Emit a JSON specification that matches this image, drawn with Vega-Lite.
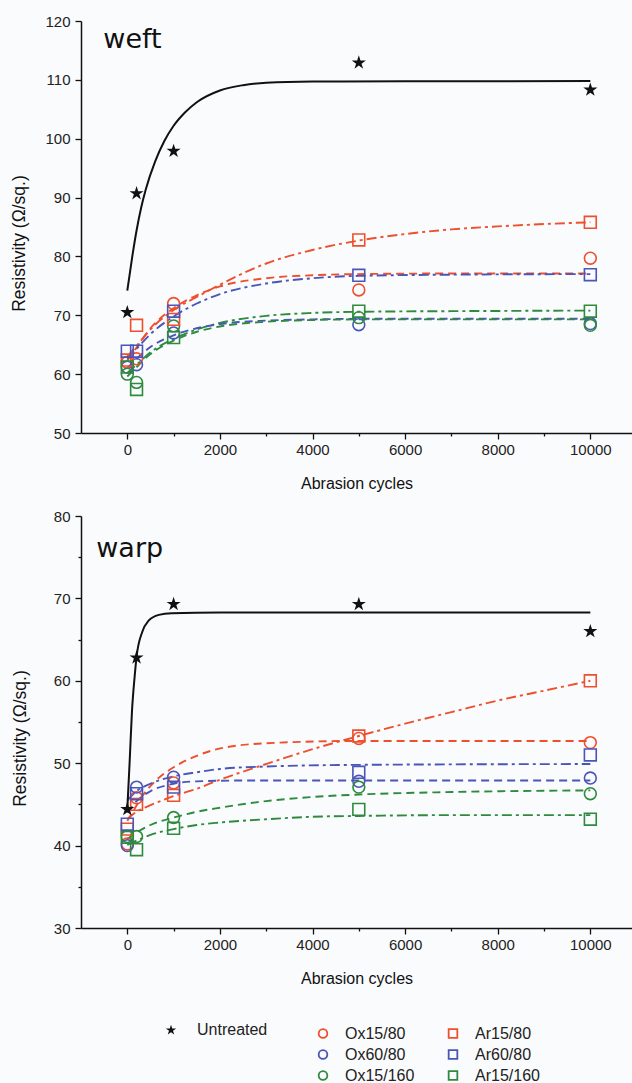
{
  "$schema": "https://vega.github.io/schema/vega-lite/v6.json",
  "background": "#fafbfd",
  "padding": {"left": 10, "top": 14, "right": 0, "bottom": 0},
  "config": {
    "view": {"stroke": null},
    "font": "Liberation Sans",
    "axis": {
      "grid": false,
      "domainColor": "#111",
      "domainWidth": 1.5,
      "tickColor": "#111",
      "tickWidth": 1.3,
      "labelFont": "Liberation Sans",
      "labelFontSize": 15,
      "labelColor": "#222",
      "labelPadding": 3,
      "titleFont": "Liberation Sans",
      "titleFontSize": 16,
      "titleFontWeight": "normal",
      "titleColor": "#111"
    }
  },
  "datasets": {
    "pts": [
      {"panel": "weft", "series": "Untreated", "cycles": 0, "r": 70.5},
      {"panel": "weft", "series": "Untreated", "cycles": 200, "r": 90.7},
      {"panel": "weft", "series": "Untreated", "cycles": 1000, "r": 97.9},
      {"panel": "weft", "series": "Untreated", "cycles": 5000, "r": 112.9},
      {"panel": "weft", "series": "Untreated", "cycles": 10000, "r": 108.3},
      {"panel": "weft", "series": "Ox15/80", "cycles": 0, "r": 62.0},
      {"panel": "weft", "series": "Ox15/80", "cycles": 200, "r": 62.6},
      {"panel": "weft", "series": "Ox15/80", "cycles": 1000, "r": 72.0},
      {"panel": "weft", "series": "Ox15/80", "cycles": 5000, "r": 74.3},
      {"panel": "weft", "series": "Ox15/80", "cycles": 10000, "r": 79.7},
      {"panel": "weft", "series": "Ox60/80", "cycles": 0, "r": 61.2},
      {"panel": "weft", "series": "Ox60/80", "cycles": 200, "r": 61.6},
      {"panel": "weft", "series": "Ox60/80", "cycles": 1000, "r": 67.0},
      {"panel": "weft", "series": "Ox60/80", "cycles": 5000, "r": 68.4},
      {"panel": "weft", "series": "Ox60/80", "cycles": 10000, "r": 68.6},
      {"panel": "weft", "series": "Ox15/160", "cycles": 0, "r": 60.0},
      {"panel": "weft", "series": "Ox15/160", "cycles": 200, "r": 58.6},
      {"panel": "weft", "series": "Ox15/160", "cycles": 1000, "r": 68.2},
      {"panel": "weft", "series": "Ox15/160", "cycles": 5000, "r": 69.6},
      {"panel": "weft", "series": "Ox15/160", "cycles": 10000, "r": 68.3},
      {"panel": "weft", "series": "Ar15/80", "cycles": 0, "r": 62.4},
      {"panel": "weft", "series": "Ar15/80", "cycles": 200, "r": 68.3},
      {"panel": "weft", "series": "Ar15/80", "cycles": 1000, "r": 69.3},
      {"panel": "weft", "series": "Ar15/80", "cycles": 5000, "r": 82.8},
      {"panel": "weft", "series": "Ar15/80", "cycles": 10000, "r": 85.8},
      {"panel": "weft", "series": "Ar60/80", "cycles": 0, "r": 63.9},
      {"panel": "weft", "series": "Ar60/80", "cycles": 200, "r": 63.9},
      {"panel": "weft", "series": "Ar60/80", "cycles": 1000, "r": 70.7},
      {"panel": "weft", "series": "Ar60/80", "cycles": 5000, "r": 76.8},
      {"panel": "weft", "series": "Ar60/80", "cycles": 10000, "r": 76.9},
      {"panel": "weft", "series": "Ar15/160", "cycles": 0, "r": 61.2},
      {"panel": "weft", "series": "Ar15/160", "cycles": 200, "r": 57.4},
      {"panel": "weft", "series": "Ar15/160", "cycles": 1000, "r": 66.2},
      {"panel": "weft", "series": "Ar15/160", "cycles": 5000, "r": 70.7},
      {"panel": "weft", "series": "Ar15/160", "cycles": 10000, "r": 70.7},
      {"panel": "warp", "series": "Untreated", "cycles": 0, "r": 44.4},
      {"panel": "warp", "series": "Untreated", "cycles": 200, "r": 62.8},
      {"panel": "warp", "series": "Untreated", "cycles": 1000, "r": 69.3},
      {"panel": "warp", "series": "Untreated", "cycles": 5000, "r": 69.3},
      {"panel": "warp", "series": "Untreated", "cycles": 10000, "r": 66.0},
      {"panel": "warp", "series": "Ox15/80", "cycles": 0, "r": 40.2},
      {"panel": "warp", "series": "Ox15/80", "cycles": 200, "r": 45.8},
      {"panel": "warp", "series": "Ox15/80", "cycles": 1000, "r": 47.6},
      {"panel": "warp", "series": "Ox15/80", "cycles": 5000, "r": 53.0},
      {"panel": "warp", "series": "Ox15/80", "cycles": 10000, "r": 52.5},
      {"panel": "warp", "series": "Ox60/80", "cycles": 0, "r": 40.0},
      {"panel": "warp", "series": "Ox60/80", "cycles": 200, "r": 47.1},
      {"panel": "warp", "series": "Ox60/80", "cycles": 1000, "r": 48.3},
      {"panel": "warp", "series": "Ox60/80", "cycles": 5000, "r": 47.8},
      {"panel": "warp", "series": "Ox60/80", "cycles": 10000, "r": 48.2},
      {"panel": "warp", "series": "Ox15/160", "cycles": 0, "r": 41.1},
      {"panel": "warp", "series": "Ox15/160", "cycles": 200, "r": 41.1},
      {"panel": "warp", "series": "Ox15/160", "cycles": 1000, "r": 43.4},
      {"panel": "warp", "series": "Ox15/160", "cycles": 5000, "r": 47.1},
      {"panel": "warp", "series": "Ox15/160", "cycles": 10000, "r": 46.3},
      {"panel": "warp", "series": "Ar15/80", "cycles": 0, "r": 42.0},
      {"panel": "warp", "series": "Ar15/80", "cycles": 200, "r": 45.0},
      {"panel": "warp", "series": "Ar15/80", "cycles": 1000, "r": 46.1},
      {"panel": "warp", "series": "Ar15/80", "cycles": 5000, "r": 53.3},
      {"panel": "warp", "series": "Ar15/80", "cycles": 10000, "r": 60.0},
      {"panel": "warp", "series": "Ar60/80", "cycles": 0, "r": 42.6},
      {"panel": "warp", "series": "Ar60/80", "cycles": 200, "r": 46.3},
      {"panel": "warp", "series": "Ar60/80", "cycles": 1000, "r": 47.1},
      {"panel": "warp", "series": "Ar60/80", "cycles": 5000, "r": 48.9},
      {"panel": "warp", "series": "Ar60/80", "cycles": 10000, "r": 51.0},
      {"panel": "warp", "series": "Ar15/160", "cycles": 0, "r": 41.0},
      {"panel": "warp", "series": "Ar15/160", "cycles": 200, "r": 39.5},
      {"panel": "warp", "series": "Ar15/160", "cycles": 1000, "r": 42.1},
      {"panel": "warp", "series": "Ar15/160", "cycles": 5000, "r": 44.4},
      {"panel": "warp", "series": "Ar15/160", "cycles": 10000, "r": 43.2}
    ],
    "fits": [
      {"panel": "weft", "series": "Untreated", "cycles": 0, "r": 74.2},
      {"panel": "weft", "series": "Untreated", "cycles": 100, "r": 79.6},
      {"panel": "weft", "series": "Untreated", "cycles": 200, "r": 84.4},
      {"panel": "weft", "series": "Untreated", "cycles": 300, "r": 88.3},
      {"panel": "weft", "series": "Untreated", "cycles": 400, "r": 91.4},
      {"panel": "weft", "series": "Untreated", "cycles": 600, "r": 96.1},
      {"panel": "weft", "series": "Untreated", "cycles": 800, "r": 99.6},
      {"panel": "weft", "series": "Untreated", "cycles": 1000, "r": 102.2},
      {"panel": "weft", "series": "Untreated", "cycles": 1250, "r": 104.5},
      {"panel": "weft", "series": "Untreated", "cycles": 1500, "r": 106.2},
      {"panel": "weft", "series": "Untreated", "cycles": 2000, "r": 108.2},
      {"panel": "weft", "series": "Untreated", "cycles": 2500, "r": 109.1},
      {"panel": "weft", "series": "Untreated", "cycles": 3000, "r": 109.5},
      {"panel": "weft", "series": "Untreated", "cycles": 4000, "r": 109.7},
      {"panel": "weft", "series": "Untreated", "cycles": 6000, "r": 109.75},
      {"panel": "weft", "series": "Untreated", "cycles": 10000, "r": 109.8},
      {"panel": "weft", "series": "Ar15/80", "cycles": 0, "r": 63.0},
      {"panel": "weft", "series": "Ar15/80", "cycles": 200, "r": 64.8},
      {"panel": "weft", "series": "Ar15/80", "cycles": 500, "r": 67.6},
      {"panel": "weft", "series": "Ar15/80", "cycles": 1000, "r": 70.9},
      {"panel": "weft", "series": "Ar15/80", "cycles": 1500, "r": 73.1},
      {"panel": "weft", "series": "Ar15/80", "cycles": 2000, "r": 75.2},
      {"panel": "weft", "series": "Ar15/80", "cycles": 3000, "r": 78.8},
      {"panel": "weft", "series": "Ar15/80", "cycles": 4000, "r": 81.1},
      {"panel": "weft", "series": "Ar15/80", "cycles": 5000, "r": 82.7},
      {"panel": "weft", "series": "Ar15/80", "cycles": 6000, "r": 83.8},
      {"panel": "weft", "series": "Ar15/80", "cycles": 7000, "r": 84.6},
      {"panel": "weft", "series": "Ar15/80", "cycles": 8000, "r": 85.1},
      {"panel": "weft", "series": "Ar15/80", "cycles": 9000, "r": 85.5},
      {"panel": "weft", "series": "Ar15/80", "cycles": 10000, "r": 85.8},
      {"panel": "weft", "series": "Ox15/80", "cycles": 0, "r": 62.3},
      {"panel": "weft", "series": "Ox15/80", "cycles": 200, "r": 64.5},
      {"panel": "weft", "series": "Ox15/80", "cycles": 500, "r": 67.8},
      {"panel": "weft", "series": "Ox15/80", "cycles": 1000, "r": 71.2},
      {"panel": "weft", "series": "Ox15/80", "cycles": 1500, "r": 73.4},
      {"panel": "weft", "series": "Ox15/80", "cycles": 2000, "r": 74.9},
      {"panel": "weft", "series": "Ox15/80", "cycles": 3000, "r": 76.3},
      {"panel": "weft", "series": "Ox15/80", "cycles": 4000, "r": 76.8},
      {"panel": "weft", "series": "Ox15/80", "cycles": 5000, "r": 77.0},
      {"panel": "weft", "series": "Ox15/80", "cycles": 7000, "r": 77.1},
      {"panel": "weft", "series": "Ox15/80", "cycles": 10000, "r": 77.1},
      {"panel": "weft", "series": "Ar60/80", "cycles": 0, "r": 62.6},
      {"panel": "weft", "series": "Ar60/80", "cycles": 200, "r": 64.3},
      {"panel": "weft", "series": "Ar60/80", "cycles": 500, "r": 66.8},
      {"panel": "weft", "series": "Ar60/80", "cycles": 1000, "r": 69.8},
      {"panel": "weft", "series": "Ar60/80", "cycles": 1500, "r": 72.0},
      {"panel": "weft", "series": "Ar60/80", "cycles": 2000, "r": 73.6},
      {"panel": "weft", "series": "Ar60/80", "cycles": 3000, "r": 75.4},
      {"panel": "weft", "series": "Ar60/80", "cycles": 4000, "r": 76.3},
      {"panel": "weft", "series": "Ar60/80", "cycles": 5000, "r": 76.7},
      {"panel": "weft", "series": "Ar60/80", "cycles": 7000, "r": 76.9},
      {"panel": "weft", "series": "Ar60/80", "cycles": 10000, "r": 77.0},
      {"panel": "weft", "series": "Ar15/160", "cycles": 0, "r": 60.2},
      {"panel": "weft", "series": "Ar15/160", "cycles": 200, "r": 61.6},
      {"panel": "weft", "series": "Ar15/160", "cycles": 500, "r": 63.7},
      {"panel": "weft", "series": "Ar15/160", "cycles": 1000, "r": 66.0},
      {"panel": "weft", "series": "Ar15/160", "cycles": 1500, "r": 67.6},
      {"panel": "weft", "series": "Ar15/160", "cycles": 2000, "r": 68.7},
      {"panel": "weft", "series": "Ar15/160", "cycles": 3000, "r": 69.9},
      {"panel": "weft", "series": "Ar15/160", "cycles": 4000, "r": 70.4},
      {"panel": "weft", "series": "Ar15/160", "cycles": 5000, "r": 70.6},
      {"panel": "weft", "series": "Ar15/160", "cycles": 7000, "r": 70.7},
      {"panel": "weft", "series": "Ar15/160", "cycles": 10000, "r": 70.8},
      {"panel": "weft", "series": "Ox60/80", "cycles": 0, "r": 61.0},
      {"panel": "weft", "series": "Ox60/80", "cycles": 200, "r": 62.6},
      {"panel": "weft", "series": "Ox60/80", "cycles": 500, "r": 64.6},
      {"panel": "weft", "series": "Ox60/80", "cycles": 1000, "r": 66.6},
      {"panel": "weft", "series": "Ox60/80", "cycles": 1500, "r": 67.8},
      {"panel": "weft", "series": "Ox60/80", "cycles": 2000, "r": 68.5},
      {"panel": "weft", "series": "Ox60/80", "cycles": 3000, "r": 69.1},
      {"panel": "weft", "series": "Ox60/80", "cycles": 4000, "r": 69.3},
      {"panel": "weft", "series": "Ox60/80", "cycles": 5000, "r": 69.4},
      {"panel": "weft", "series": "Ox60/80", "cycles": 10000, "r": 69.4},
      {"panel": "weft", "series": "Ox15/160", "cycles": 0, "r": 59.6},
      {"panel": "weft", "series": "Ox15/160", "cycles": 200, "r": 61.2},
      {"panel": "weft", "series": "Ox15/160", "cycles": 500, "r": 63.4},
      {"panel": "weft", "series": "Ox15/160", "cycles": 1000, "r": 65.7},
      {"panel": "weft", "series": "Ox15/160", "cycles": 1500, "r": 67.2},
      {"panel": "weft", "series": "Ox15/160", "cycles": 2000, "r": 68.1},
      {"panel": "weft", "series": "Ox15/160", "cycles": 3000, "r": 68.9},
      {"panel": "weft", "series": "Ox15/160", "cycles": 4000, "r": 69.2},
      {"panel": "weft", "series": "Ox15/160", "cycles": 5000, "r": 69.3},
      {"panel": "weft", "series": "Ox15/160", "cycles": 10000, "r": 69.3},
      {"panel": "warp", "series": "Untreated", "cycles": 0, "r": 44.4},
      {"panel": "warp", "series": "Untreated", "cycles": 50, "r": 50.1},
      {"panel": "warp", "series": "Untreated", "cycles": 100, "r": 56.2},
      {"panel": "warp", "series": "Untreated", "cycles": 160, "r": 60.6},
      {"panel": "warp", "series": "Untreated", "cycles": 200, "r": 62.9},
      {"panel": "warp", "series": "Untreated", "cycles": 320, "r": 65.9},
      {"panel": "warp", "series": "Untreated", "cycles": 460, "r": 67.3},
      {"panel": "warp", "series": "Untreated", "cycles": 680, "r": 68.0},
      {"panel": "warp", "series": "Untreated", "cycles": 960, "r": 68.2},
      {"panel": "warp", "series": "Untreated", "cycles": 2000, "r": 68.3},
      {"panel": "warp", "series": "Untreated", "cycles": 10000, "r": 68.3},
      {"panel": "warp", "series": "Ar15/80", "cycles": 0, "r": 43.2},
      {"panel": "warp", "series": "Ar15/80", "cycles": 200, "r": 44.1},
      {"panel": "warp", "series": "Ar15/80", "cycles": 500, "r": 44.9},
      {"panel": "warp", "series": "Ar15/80", "cycles": 1000, "r": 46.0},
      {"panel": "warp", "series": "Ar15/80", "cycles": 1500, "r": 46.9},
      {"panel": "warp", "series": "Ar15/80", "cycles": 2000, "r": 48.0},
      {"panel": "warp", "series": "Ar15/80", "cycles": 3000, "r": 49.9},
      {"panel": "warp", "series": "Ar15/80", "cycles": 4000, "r": 51.7},
      {"panel": "warp", "series": "Ar15/80", "cycles": 5000, "r": 53.3},
      {"panel": "warp", "series": "Ar15/80", "cycles": 6000, "r": 54.8},
      {"panel": "warp", "series": "Ar15/80", "cycles": 7000, "r": 56.2},
      {"panel": "warp", "series": "Ar15/80", "cycles": 8000, "r": 57.6},
      {"panel": "warp", "series": "Ar15/80", "cycles": 9000, "r": 58.8},
      {"panel": "warp", "series": "Ar15/80", "cycles": 10000, "r": 60.0},
      {"panel": "warp", "series": "Ox15/80", "cycles": 0, "r": 43.0},
      {"panel": "warp", "series": "Ox15/80", "cycles": 140, "r": 44.3},
      {"panel": "warp", "series": "Ox15/80", "cycles": 300, "r": 45.8},
      {"panel": "warp", "series": "Ox15/80", "cycles": 600, "r": 47.8},
      {"panel": "warp", "series": "Ox15/80", "cycles": 1000, "r": 49.5},
      {"panel": "warp", "series": "Ox15/80", "cycles": 1500, "r": 50.9},
      {"panel": "warp", "series": "Ox15/80", "cycles": 2200, "r": 52.0},
      {"panel": "warp", "series": "Ox15/80", "cycles": 3300, "r": 52.5},
      {"panel": "warp", "series": "Ox15/80", "cycles": 5000, "r": 52.7},
      {"panel": "warp", "series": "Ox15/80", "cycles": 10000, "r": 52.7},
      {"panel": "warp", "series": "Ar60/80", "cycles": 0, "r": 45.5},
      {"panel": "warp", "series": "Ar60/80", "cycles": 200, "r": 46.6},
      {"panel": "warp", "series": "Ar60/80", "cycles": 580, "r": 47.7},
      {"panel": "warp", "series": "Ar60/80", "cycles": 1000, "r": 48.4},
      {"panel": "warp", "series": "Ar60/80", "cycles": 1500, "r": 48.9},
      {"panel": "warp", "series": "Ar60/80", "cycles": 2000, "r": 49.3},
      {"panel": "warp", "series": "Ar60/80", "cycles": 3000, "r": 49.6},
      {"panel": "warp", "series": "Ar60/80", "cycles": 5000, "r": 49.8},
      {"panel": "warp", "series": "Ar60/80", "cycles": 10000, "r": 49.9},
      {"panel": "warp", "series": "Ox60/80", "cycles": 0, "r": 44.0},
      {"panel": "warp", "series": "Ox60/80", "cycles": 200, "r": 45.4},
      {"panel": "warp", "series": "Ox60/80", "cycles": 500, "r": 46.6},
      {"panel": "warp", "series": "Ox60/80", "cycles": 1000, "r": 47.5},
      {"panel": "warp", "series": "Ox60/80", "cycles": 1500, "r": 47.8},
      {"panel": "warp", "series": "Ox60/80", "cycles": 2500, "r": 47.9},
      {"panel": "warp", "series": "Ox60/80", "cycles": 10000, "r": 47.9},
      {"panel": "warp", "series": "Ox15/160", "cycles": 0, "r": 40.8},
      {"panel": "warp", "series": "Ox15/160", "cycles": 200, "r": 41.6},
      {"panel": "warp", "series": "Ox15/160", "cycles": 500, "r": 42.5},
      {"panel": "warp", "series": "Ox15/160", "cycles": 1000, "r": 43.4},
      {"panel": "warp", "series": "Ox15/160", "cycles": 1500, "r": 44.1},
      {"panel": "warp", "series": "Ox15/160", "cycles": 2000, "r": 44.6},
      {"panel": "warp", "series": "Ox15/160", "cycles": 3000, "r": 45.4},
      {"panel": "warp", "series": "Ox15/160", "cycles": 4000, "r": 45.9},
      {"panel": "warp", "series": "Ox15/160", "cycles": 5000, "r": 46.2},
      {"panel": "warp", "series": "Ox15/160", "cycles": 7000, "r": 46.5},
      {"panel": "warp", "series": "Ox15/160", "cycles": 10000, "r": 46.7},
      {"panel": "warp", "series": "Ar15/160", "cycles": 0, "r": 40.1},
      {"panel": "warp", "series": "Ar15/160", "cycles": 200, "r": 40.6},
      {"panel": "warp", "series": "Ar15/160", "cycles": 500, "r": 41.3},
      {"panel": "warp", "series": "Ar15/160", "cycles": 1000, "r": 42.0},
      {"panel": "warp", "series": "Ar15/160", "cycles": 1500, "r": 42.5},
      {"panel": "warp", "series": "Ar15/160", "cycles": 2000, "r": 42.8},
      {"panel": "warp", "series": "Ar15/160", "cycles": 3000, "r": 43.2},
      {"panel": "warp", "series": "Ar15/160", "cycles": 4000, "r": 43.5},
      {"panel": "warp", "series": "Ar15/160", "cycles": 5000, "r": 43.6},
      {"panel": "warp", "series": "Ar15/160", "cycles": 7000, "r": 43.7},
      {"panel": "warp", "series": "Ar15/160", "cycles": 10000, "r": 43.7}
    ],
    "legend": [
      {"series": "Untreated", "lx": 90, "tx": 116, "row": -0.16},
      {"series": "Ox15/80", "lx": 242, "tx": 264, "row": 0},
      {"series": "Ox60/80", "lx": 242, "tx": 264, "row": 1},
      {"series": "Ox15/160", "lx": 242, "tx": 264, "row": 2},
      {"series": "Ar15/80", "lx": 372, "tx": 394, "row": 0},
      {"series": "Ar60/80", "lx": 372, "tx": 394, "row": 1},
      {"series": "Ar15/160", "lx": 372, "tx": 394, "row": 2}
    ]
  },
  "vconcat": [
    {
      "vconcat": [
        {
          "width": 551,
          "height": 412,
          "layer": [
            {
              "data": {"name": "fits"},
              "transform": [{"filter": "datum.panel === 'weft' && datum.series !== 'Untreated'"}],
              "mark": {"type": "line", "interpolate": "monotone", "strokeWidth": 1.9},
              "encoding": {
                "x": {"field": "cycles", "type": "quantitative", "title": "Abrasion cycles",
                  "scale": {"domain": [-1000, 10900], "nice": false, "zero": false},
                  "axis": {"values": [0, 1000, 2000, 3000, 4000, 5000, 6000, 7000, 8000, 9000, 10000], "format": "d",
                    "labelExpr": "datum.value % 2000 === 0 ? datum.label : ''",
                    "tickSize": {"condition": {"test": "datum.value % 2000 === 0", "value": 6}, "value": 3},
                    "titlePadding": 18}},
                "y": {"field": "r", "type": "quantitative", "title": "Resistivity (Ω/sq.)",
                  "scale": {"domain": [50, 120], "nice": false, "zero": false},
                  "axis": {"values": [50, 55, 60, 65, 70, 75, 80, 85, 90, 95, 100, 105, 110, 115, 120],
                    "labelExpr": "datum.value % 10 === 0 ? datum.label : ''",
                    "tickSize": {"condition": {"test": "datum.value % 10 === 0", "value": 6}, "value": 3},
                    "labelPadding": 5, "titlePadding": 16, "titleFontSize": 17.5, "titleY": 222}},
                "color": {"field": "series", "type": "nominal", "legend": null,
                  "scale": {"domain": ["Untreated", "Ox15/80", "Ox60/80", "Ox15/160", "Ar15/80", "Ar60/80", "Ar15/160"],
                    "range": ["#111111", "#ee4f2c", "#4a55b8", "#2e8b3e", "#ee4f2c", "#4a55b8", "#2e8b3e"]}},
                "strokeDash": {"field": "series", "type": "nominal", "legend": null,
                  "scale": {"domain": ["Untreated", "Ox15/80", "Ox60/80", "Ox15/160", "Ar15/80", "Ar60/80", "Ar15/160"],
                    "range": [[1, 0], [8, 5], [8, 5], [8, 5], [10, 4, 3, 4], [10, 4, 3, 4], [10, 4, 3, 4]]}}
              }
            },
            {
              "data": {"name": "fits"},
              "transform": [{"filter": "datum.panel === 'weft' && datum.series === 'Untreated'"}],
              "mark": {"type": "line", "interpolate": "monotone", "strokeWidth": 2, "color": "#111"},
              "encoding": {
                "x": {"field": "cycles", "type": "quantitative"},
                "y": {"field": "r", "type": "quantitative"}
              }
            },
            {
              "data": {"name": "pts"},
              "transform": [{"filter": "datum.panel === 'weft' && datum.series !== 'Untreated'"}],
              "mark": {"type": "point", "filled": false, "strokeWidth": 1.6, "size": 140, "opacity": 1},
              "encoding": {
                "x": {"field": "cycles", "type": "quantitative"},
                "y": {"field": "r", "type": "quantitative"},
                "color": {"field": "series", "type": "nominal", "legend": null},
                "shape": {"field": "series", "type": "nominal", "legend": null,
                  "scale": {"domain": ["Ox15/80", "Ox60/80", "Ox15/160", "Ar15/80", "Ar60/80", "Ar15/160"],
                    "range": ["circle", "circle", "circle", "square", "square", "square"]}}
              }
            },
            {
              "data": {"name": "pts"},
              "transform": [{"filter": "datum.panel === 'weft' && datum.series === 'Untreated'"}],
              "mark": {"type": "point", "filled": true, "size": 220, "color": "#111", "opacity": 1,
                "shape": "M0,-1L0.2245,-0.309L0.951,-0.309L0.3633,0.118L0.5878,0.809L0,0.382L-0.5878,0.809L-0.3633,0.118L-0.951,-0.309L-0.2245,-0.309Z"},
              "encoding": {
                "x": {"field": "cycles", "type": "quantitative"},
                "y": {"field": "r", "type": "quantitative"}
              }
            },
            {
              "data": {"values": [{"label": "weft", "cycles": -518, "r": 115.4}]},
              "mark": {"type": "text", "align": "left", "baseline": "alphabetic", "font": "DejaVu Sans", "fontSize": 27, "color": "#111"},
              "encoding": {
                "x": {"field": "cycles", "type": "quantitative"},
                "y": {"field": "r", "type": "quantitative"},
                "text": {"field": "label"}
              }
            }
          ]
        },
        {
          "width": 551,
          "height": 412,
          "layer": [
            {
              "data": {"name": "fits"},
              "transform": [{"filter": "datum.panel === 'warp' && datum.series !== 'Untreated'"}],
              "mark": {"type": "line", "interpolate": "monotone", "strokeWidth": 1.9},
              "encoding": {
                "x": {"field": "cycles", "type": "quantitative", "title": "Abrasion cycles",
                  "scale": {"domain": [-1000, 10900], "nice": false, "zero": false},
                  "axis": {"values": [0, 1000, 2000, 3000, 4000, 5000, 6000, 7000, 8000, 9000, 10000], "format": "d",
                    "labelExpr": "datum.value % 2000 === 0 ? datum.label : ''",
                    "tickSize": {"condition": {"test": "datum.value % 2000 === 0", "value": 6}, "value": 3},
                    "titlePadding": 18}},
                "y": {"field": "r", "type": "quantitative", "title": "Resistivity (Ω/sq.)",
                  "scale": {"domain": [30, 80], "nice": false, "zero": false},
                  "axis": {"values": [30, 35, 40, 45, 50, 55, 60, 65, 70, 75, 80],
                    "labelExpr": "datum.value % 10 === 0 ? datum.label : ''",
                    "tickSize": {"condition": {"test": "datum.value % 10 === 0", "value": 6}, "value": 3},
                    "labelPadding": 5, "titlePadding": 24, "titleFontSize": 17.5, "titleY": 222}},
                "color": {"field": "series", "type": "nominal", "legend": null,
                  "scale": {"domain": ["Untreated", "Ox15/80", "Ox60/80", "Ox15/160", "Ar15/80", "Ar60/80", "Ar15/160"],
                    "range": ["#111111", "#ee4f2c", "#4a55b8", "#2e8b3e", "#ee4f2c", "#4a55b8", "#2e8b3e"]}},
                "strokeDash": {"field": "series", "type": "nominal", "legend": null,
                  "scale": {"domain": ["Untreated", "Ox15/80", "Ox60/80", "Ox15/160", "Ar15/80", "Ar60/80", "Ar15/160"],
                    "range": [[1, 0], [8, 5], [8, 5], [8, 5], [10, 4, 3, 4], [10, 4, 3, 4], [10, 4, 3, 4]]}}
              }
            },
            {
              "data": {"name": "fits"},
              "transform": [{"filter": "datum.panel === 'warp' && datum.series === 'Untreated'"}],
              "mark": {"type": "line", "interpolate": "monotone", "strokeWidth": 2, "color": "#111"},
              "encoding": {
                "x": {"field": "cycles", "type": "quantitative"},
                "y": {"field": "r", "type": "quantitative"}
              }
            },
            {
              "data": {"name": "pts"},
              "transform": [{"filter": "datum.panel === 'warp' && datum.series !== 'Untreated'"}],
              "mark": {"type": "point", "filled": false, "strokeWidth": 1.6, "size": 140, "opacity": 1},
              "encoding": {
                "x": {"field": "cycles", "type": "quantitative"},
                "y": {"field": "r", "type": "quantitative"},
                "color": {"field": "series", "type": "nominal", "legend": null},
                "shape": {"field": "series", "type": "nominal", "legend": null,
                  "scale": {"domain": ["Ox15/80", "Ox60/80", "Ox15/160", "Ar15/80", "Ar60/80", "Ar15/160"],
                    "range": ["circle", "circle", "circle", "square", "square", "square"]}}
              }
            },
            {
              "data": {"name": "pts"},
              "transform": [{"filter": "datum.panel === 'warp' && datum.series === 'Untreated'"}],
              "mark": {"type": "point", "filled": true, "size": 220, "color": "#111", "opacity": 1,
                "shape": "M0,-1L0.2245,-0.309L0.951,-0.309L0.3633,0.118L0.5878,0.809L0,0.382L-0.5878,0.809L-0.3633,0.118L-0.951,-0.309L-0.2245,-0.309Z"},
              "encoding": {
                "x": {"field": "cycles", "type": "quantitative"},
                "y": {"field": "r", "type": "quantitative"}
              }
            },
            {
              "data": {"values": [{"label": "warp", "cycles": -670, "r": 75.0}]},
              "mark": {"type": "text", "align": "left", "baseline": "alphabetic", "font": "DejaVu Sans", "fontSize": 27, "color": "#111"},
              "encoding": {
                "x": {"field": "cycles", "type": "quantitative"},
                "y": {"field": "r", "type": "quantitative"},
                "text": {"field": "label"}
              }
            }
          ]
        }
      ],
      "spacing": 18
    },
    {
      "width": 551,
      "height": 63,
      "data": {"name": "legend"},
      "layer": [
        {
          "transform": [{"filter": "datum.series !== 'Untreated'"}],
          "mark": {"type": "point", "filled": false, "strokeWidth": 1.8, "size": 75, "opacity": 1},
          "encoding": {
            "x": {"field": "lx", "type": "quantitative", "axis": null, "scale": {"domain": [0, 551], "nice": false, "zero": false}},
            "y": {"field": "row", "type": "quantitative", "axis": null, "scale": {"domain": [-0.5, 2.5], "reverse": true, "nice": false, "zero": false}},
            "color": {"field": "series", "type": "nominal", "legend": null,
              "scale": {"domain": ["Ox15/80", "Ox60/80", "Ox15/160", "Ar15/80", "Ar60/80", "Ar15/160"],
                "range": ["#ee4f2c", "#4a55b8", "#2e8b3e", "#ee4f2c", "#4a55b8", "#2e8b3e"]}},
            "shape": {"field": "series", "type": "nominal", "legend": null,
              "scale": {"domain": ["Ox15/80", "Ox60/80", "Ox15/160", "Ar15/80", "Ar60/80", "Ar15/160"],
                "range": ["circle", "circle", "circle", "square", "square", "square"]}}
          }
        },
        {
          "transform": [{"filter": "datum.series === 'Untreated'"}],
          "mark": {"type": "point", "filled": true, "size": 120, "color": "#111", "opacity": 1,
            "shape": "M0,-1L0.2245,-0.309L0.951,-0.309L0.3633,0.118L0.5878,0.809L0,0.382L-0.5878,0.809L-0.3633,0.118L-0.951,-0.309L-0.2245,-0.309Z"},
          "encoding": {
            "x": {"field": "lx", "type": "quantitative"},
            "y": {"field": "row", "type": "quantitative"}
          }
        },
        {
          "mark": {"type": "text", "align": "left", "baseline": "middle", "fontSize": 16, "font": "Liberation Sans", "color": "#222"},
          "encoding": {
            "x": {"field": "tx", "type": "quantitative"},
            "y": {"field": "row", "type": "quantitative"},
            "text": {"field": "series"}
          }
        }
      ]
    }
  ],
  "spacing": 36
}
